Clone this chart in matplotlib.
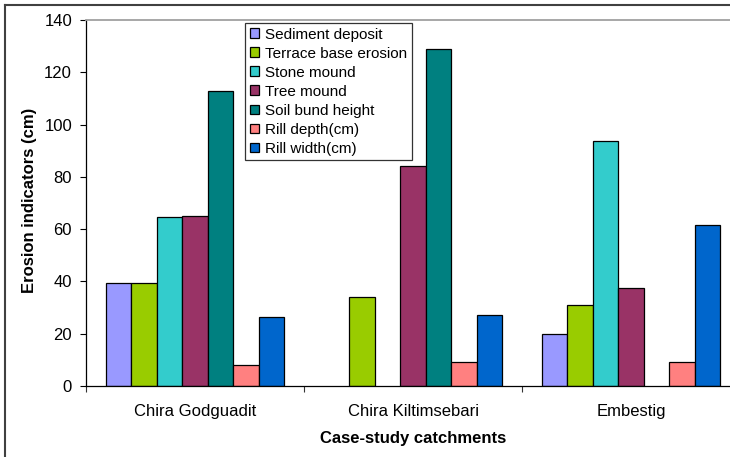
import numpy as np
import matplotlib.pyplot as plt
from matplotlib.lines import Line2D

plt.rcParams["font.family"] = ["Liberation Sans", "DejaVu Sans"]

categories = ["Chira Godguadit", "Chira Kiltimsebari", "Embestig"]
series_names = ["Sediment deposit", "Terrace base erosion", "Stone mound",
                "Tree mound", "Soil bund height", "Rill depth(cm)", "Rill width(cm)"]

sediment_deposit = [39.5, np.nan, 20]
terrace_base_erosion = [39.5, 34, 30.8]
stone_mound = [64.5, np.nan, 93.8]
tree_mound = [65, 84, 37.3]
soil_bund_height = [113, 129, np.nan]
rill_depth = [8, 9.3, 9]
rill_width = [26.3, 27.3, 61.7]

series = [sediment_deposit, terrace_base_erosion, stone_mound, tree_mound,
          soil_bund_height, rill_depth, rill_width]
colors = ["#9999FF", "#99CC00", "#33CCCC", "#993366", "#008080", "#FF8080", "#0066CC"]

W, H = 730, 457
fig = plt.figure(figsize=(W / 100, H / 100), dpi=100)
ax = fig.add_axes([86 / W, 71 / H, 654 / W, 366 / H])

x = np.arange(len(categories))
width = 0.117
for i, (vals, name, col) in enumerate(zip(series, series_names, colors)):
    ax.bar(x + (i - 3) * width, vals, width, color=col, edgecolor="black",
           linewidth=0.9, label=name)

ax.set_xlim(-0.5, 2.5)
ax.set_ylim(0, 140)
ax.set_yticks(range(0, 141, 20))
ax.tick_params(axis="y", direction="out", length=4, width=0.8, labelsize=12, pad=6)

# category boundaries as major ticks, names as minor ticks
ax.set_xticks([-0.5, 0.5, 1.5, 2.5])
ax.set_xticklabels([])
ax.set_xticks(x, minor=True)
ax.set_xticklabels(categories, minor=True)
ax.tick_params(axis="x", which="major", direction="out", length=4, width=0.8, color="#333333")
ax.tick_params(axis="x", which="minor", length=0, labelsize=12, pad=13)

for s in ["left", "bottom"]:
    ax.spines[s].set_color("black")
    ax.spines[s].set_linewidth(0.9)
ax.spines["top"].set_color("#a0a0a0")
ax.spines["top"].set_linewidth(1.3)
ax.spines["right"].set_visible(False)

fig.text(30 / W, 1 - 200 / H, "Erosion indicators (cm)", rotation=90,
         ha="center", va="center", fontsize=12, fontweight="bold")
fig.text(413 / W, 1 - 438 / H, "Case-study catchments",
         ha="center", va="center", fontsize=12, fontweight="bold")

leg = fig.legend(loc="upper left", bbox_to_anchor=(245 / W, 1 - 23 / H),
                 fontsize=11, frameon=True, fancybox=False, borderaxespad=0,
                 handlelength=0.6, handleheight=0.6, handletextpad=0.4,
                 labelspacing=0.33, borderpad=0.3)
leg.get_frame().set_edgecolor("black")
leg.get_frame().set_linewidth(0.9)

# outer chart frame
fig.add_artist(Line2D([5 / W, 5 / W], [0, 1 - 4.5 / H], transform=fig.transFigure,
                      color="#404040", linewidth=1.5))
fig.add_artist(Line2D([5 / W, 1], [1 - 4.5 / H, 1 - 4.5 / H], transform=fig.transFigure,
                      color="#404040", linewidth=1.5))

fig.savefig("out.png", dpi=100)
